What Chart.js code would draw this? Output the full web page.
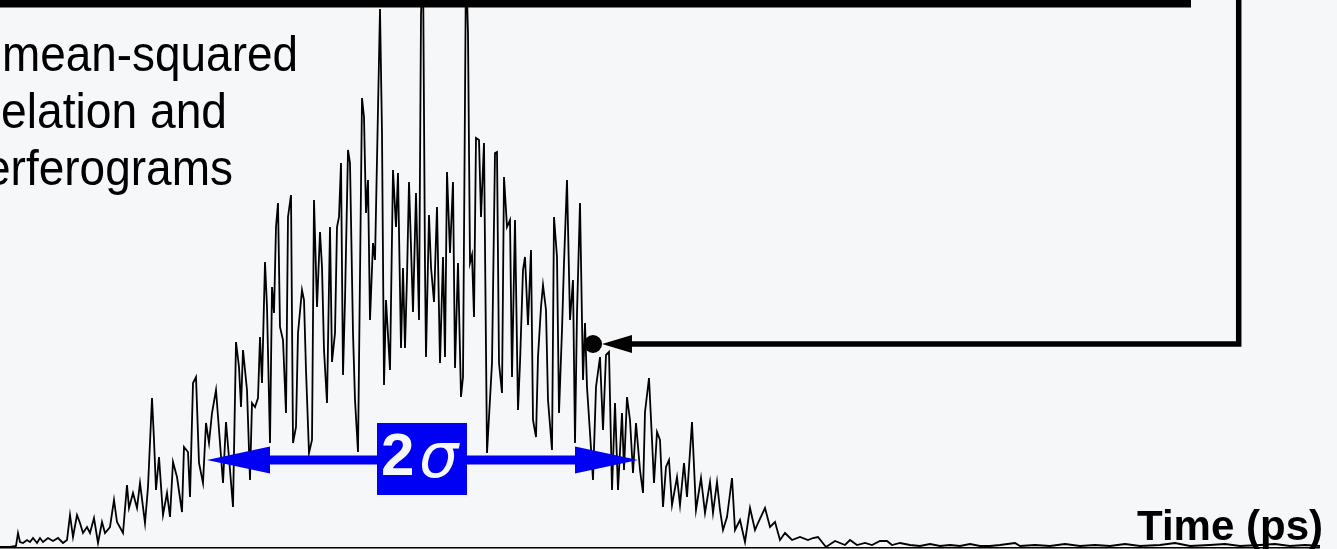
<!DOCTYPE html>
<html>
<head>
<meta charset="utf-8">
<script src="https://cdn.jsdelivr.net/npm/chart.js@4"></script>
<style>
  html, body { margin: 0; padding: 0; background: #f6f7f9; }
  .wrap { width: 1337px; height: 549px; }
</style>
</head>
<body>
<div class="wrap"><canvas id="myChart"></canvas></div>
<script>
// interferogram samples, time in ps
const times = [
  0, 0.10, 0.16, 0.18, 0.20, 0.23, 0.27, 0.30, 0.33, 0.37, 0.40, 0.43, 0.48, 0.53, 0.58, 0.63, 0.67,
  0.70, 0.73, 0.77, 0.80, 0.83, 0.87, 0.90, 0.94, 0.98, 1.02, 1.05, 1.10, 1.14, 1.17, 1.23, 1.27,
  1.29, 1.33, 1.37, 1.40, 1.45, 1.48, 1.52, 1.54, 1.56, 1.59, 1.63, 1.67, 1.70, 1.73, 1.77, 1.82,
  1.84, 1.88, 1.90, 1.93, 1.96, 1.99, 2.03, 2.06, 2.09, 2.12, 2.16, 2.20, 2.23, 2.26, 2.30, 2.33,
  2.36, 2.39, 2.41, 2.43, 2.47, 2.50, 2.52, 2.55, 2.58, 2.60, 2.62, 2.65, 2.67, 2.70, 2.72, 2.74,
  2.76, 2.78, 2.80, 2.83, 2.86, 2.88, 2.91, 2.93, 2.96, 2.98, 3.02, 3.04, 3.06, 3.09, 3.12, 3.14,
  3.17, 3.20, 3.22, 3.24, 3.27, 3.30, 3.32, 3.35, 3.37, 3.39, 3.41, 3.43, 3.45, 3.48, 3.50, 3.53,
  3.55, 3.58, 3.62, 3.64, 3.66, 3.68, 3.70, 3.73, 3.75, 3.80, 3.82, 3.84, 3.86, 3.90, 3.93, 3.96,
  3.98, 4.01, 4.03, 4.05, 4.07, 4.09, 4.13, 4.16, 4.19, 4.21, 4.23, 4.25, 4.26, 4.29, 4.31, 4.34,
  4.37, 4.40, 4.43, 4.45, 4.47, 4.50, 4.53, 4.55, 4.58, 4.61, 4.63, 4.66, 4.68, 4.70, 4.72, 4.74,
  4.76, 4.79, 4.81, 4.84, 4.87, 4.92, 4.95, 4.97, 4.99, 5.02, 5.04, 5.07, 5.10, 5.12, 5.15, 5.18,
  5.20, 5.23, 5.25, 5.28, 5.31, 5.33, 5.36, 5.38, 5.41, 5.43, 5.46, 5.48, 5.52, 5.54, 5.57, 5.59,
  5.62, 5.64, 5.67, 5.70, 5.73, 5.75, 5.77, 5.80, 5.83, 5.85, 5.87, 5.90, 5.93, 5.96, 6.00, 6.03,
  6.06, 6.09, 6.12, 6.15, 6.18, 6.22, 6.24, 6.27, 6.30, 6.33, 6.36, 6.40, 6.43, 6.45, 6.49, 6.52,
  6.54, 6.57, 6.60, 6.63, 6.66, 6.69, 6.72, 6.77, 6.80, 6.84, 6.87, 6.92, 6.96, 7.01, 7.05, 7.10,
  7.13, 7.17, 7.20, 7.23, 7.27, 7.32, 7.35, 7.40, 7.45, 7.50, 7.55, 7.58, 7.65, 7.70, 7.75, 7.80,
  7.85, 7.92, 8.00, 8.08, 8.13, 8.18, 8.26, 8.35, 8.45, 8.50, 8.57, 8.65, 8.72, 8.80, 8.87, 8.92,
  9.00, 9.10, 9.20, 9.30, 9.40, 9.50, 9.60, 9.70, 9.80, 9.90, 10.00, 10.15, 10.20, 10.35, 10.50,
  10.65, 10.80, 10.95, 11.10, 11.25, 11.40, 11.60, 11.75, 11.90, 12.10, 12.25, 12.40, 12.60, 12.75,
  12.90, 13.05, 13.20
];
const intensity = [
  0, 0, 1, 14, 5, 4, 7, 5, 9, 4, 9, 5, 9, 6, 9, 4, 7,
  32, 10, 32, 24, 14, 20, 14, 29, 4, 25, 14, 20, 47, 25, 14, 62,
  39, 54, 39, 64, 24, 60, 149, 107, 57, 90, 32, 54, 30, 85, 70, 35,
  100, 95, 50, 164, 170, 84, 64, 124, 104, 134, 157, 104, 64, 125, 77, 40,
  205, 180, 140, 197, 157, 67, 144, 140, 149, 210, 164, 285, 240, 104, 260, 234,
  320, 344, 220, 207, 134, 330, 352, 104, 120, 214, 257, 247, 177, 94, 107, 347,
  240, 315, 280, 197, 144, 320, 185, 214, 320, 330, 384, 172, 247, 397, 384, 214,
  147, 95, 449, 430, 334, 367, 227, 304, 287, 538, 414, 162, 247, 177, 377, 320,
  374, 199, 279, 199, 270, 365, 235, 354, 227, 532, 587, 280, 190, 332, 280, 245,
  340, 184, 290, 190, 375, 294, 365, 179, 284, 150, 170, 587, 514, 284, 292, 230,
  409, 407, 330, 404, 94, 184, 394, 395, 184, 154, 370, 320, 327, 170, 327, 137,
  184, 277, 290, 222, 297, 127, 110, 190, 240, 262, 237, 147, 97, 330, 290, 134,
  217, 284, 367, 227, 267, 104, 234, 344, 167, 224, 160, 114, 67, 160, 190, 117,
  192, 195, 57, 144, 57, 134, 77, 150, 127, 74, 124, 77, 54, 135, 169, 107,
  64, 115, 107, 40, 80, 87, 42, 70, 42, 84, 50, 125, 37, 69, 34, 65,
  34, 65, 37, 17, 30, 69, 17, 27, 5, 39, 17, 24, 39, 20, 25, 7,
  14, 7, 10, 7, 9, 10, 0, 6, 2, 7, 2, 4, 2, 6, 6, 2,
  4, 2, 1, 3, 1, 2, 1, 3, 1, 1, 2, 4, 1, 2, 1,
  3, 1, 2, 1, 3, 1, 2, 4, 1, 2, 3, 1, 2, 3,
  1, 2, 1
];

// annotation positions (ps / intensity)
const sigmaStart = 2.07;
const sigmaEnd = 6.38;
const sigmaLevel = 87;
const markTime = 5.93;
const markLevel = 203;

const captionLines = ['mean-squared', 'elation and', 'erferograms'];

const annotate = {
  id: 'annotate',
  beforeDraw(chart) {
    const ctx = chart.ctx;
    ctx.save();
    ctx.fillStyle = '#f6f7f9';
    ctx.fillRect(0, 0, chart.width, chart.height);
    ctx.restore();
  },
  afterDatasetsDraw(chart) {
    const ctx = chart.ctx;
    const xs = chart.scales.x;
    const ys = chart.scales.y;
    ctx.save();

    // axis line
    ctx.strokeStyle = '#000';
    ctx.lineWidth = 1.5;
    ctx.beginPath();
    ctx.moveTo(0, 547.75);
    ctx.lineTo(1320, 547.75);
    ctx.stroke();

    // top bar and frame
    ctx.fillStyle = '#000';
    ctx.fillRect(0, 0, 1191, 7.5);
    const mx = xs.getPixelForValue(markTime);
    const my = ys.getPixelForValue(markLevel);
    ctx.lineWidth = 5.5;
    ctx.lineJoin = 'miter';
    ctx.beginPath();
    ctx.moveTo(1238.7, 0);
    ctx.lineTo(1238.7, my);
    ctx.lineTo(mx + 38, my);
    ctx.stroke();
    ctx.beginPath();
    ctx.moveTo(mx + 9, my);
    ctx.lineTo(mx + 39, my - 9);
    ctx.lineTo(mx + 39, my + 9);
    ctx.closePath();
    ctx.fill();
    ctx.beginPath();
    ctx.arc(mx, my, 9, 0, Math.PI * 2);
    ctx.fill();

    // 2 sigma arrow
    const x1 = xs.getPixelForValue(sigmaStart);
    const x2 = xs.getPixelForValue(sigmaEnd);
    const sy = ys.getPixelForValue(sigmaLevel);
    ctx.fillStyle = '#0000f5';
    ctx.fillRect(x1 + 40, sy - 4.5, x2 - x1 - 80, 9);
    ctx.beginPath();
    ctx.moveTo(x1, sy);
    ctx.lineTo(x1 + 63, sy - 13.5);
    ctx.lineTo(x1 + 63, sy + 13.5);
    ctx.closePath();
    ctx.fill();
    ctx.beginPath();
    ctx.moveTo(x2, sy);
    ctx.lineTo(x2 - 63, sy - 13.5);
    ctx.lineTo(x2 - 63, sy + 13.5);
    ctx.closePath();
    ctx.fill();
    ctx.fillRect(377, 423, 90, 72);
    ctx.fillStyle = '#f6f7f9';
    ctx.textBaseline = 'alphabetic';
    ctx.font = 'bold 60px "Liberation Sans", Arial, sans-serif';
    ctx.fillText('2', 381, 475);
    ctx.font = 'italic 62px "DejaVu Sans", sans-serif';
    ctx.fillText('\u03c3', 419, 477, 46);

    // caption text
    ctx.fillStyle = '#000';
    ctx.font = '50px "Liberation Sans", Arial, sans-serif';
    ctx.textAlign = 'left';
    ctx.fillText(captionLines[0], 2, 71, 296);
    ctx.fillText(captionLines[1], 1, 128, 226);
    ctx.textAlign = 'right';
    ctx.fillText(captionLines[2], 233, 185, 248);

    ctx.font = 'bold 43px "Liberation Sans", Arial, sans-serif';
    ctx.fillText('Time (ps)', 1323, 540, 186);
    ctx.restore();
  }
};

const config = {
  type: 'line',
  data: {
    datasets: [{
      label: 'Interferogram',
      data: times.map((t, i) => ({ x: t, y: intensity[i] })),
      borderColor: '#000',
      borderWidth: 1.8,
      pointRadius: 0,
      tension: 0,
      fill: false
    }]
  },
  options: {
    responsive: true,
    maintainAspectRatio: false,
    animation: false,
    layout: { padding: { left: 0, right: 0, top: 0, bottom: 2 } },
    scales: {
      x: { type: 'linear', min: 0, max: 13.37, display: false },
      y: { min: 0, max: 547, display: false }
    },
    plugins: {
      legend: { display: false },
      tooltip: { enabled: false }
    }
  },
  plugins: [annotate]
};

const myChart = new Chart(document.getElementById('myChart'), config);
</script>
</body>
</html>
